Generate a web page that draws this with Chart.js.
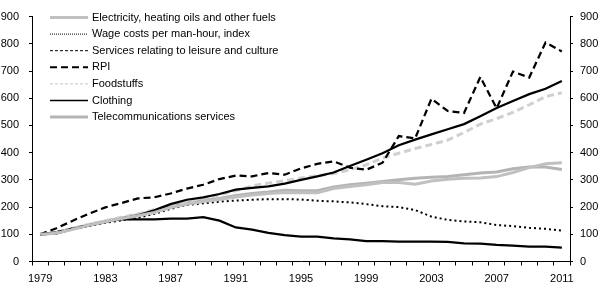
<!DOCTYPE html>
<html>
<head>
<meta charset="UTF-8">
<title>Price indices 1979-2011</title>
<style>
  html, body { margin: 0; padding: 0; background: #fff; }
  #wrap { width: 600px; height: 289px; }
</style>
</head>
<body>
<div id="wrap"><canvas id="myChart"></canvas></div>
<script src="https://cdn.jsdelivr.net/npm/chart.js@4.4.0/dist/chart.umd.min.js"></script>
<script>
var years = ["1979","1980","1981","1982","1983","1984","1985","1986","1987","1988","1989",
    "1990","1991","1992","1993","1994","1995","1996","1997","1998","1999","2000",
    "2001","2002","2003","2004","2005","2006","2007","2008","2009","2010","2011"];

var electricity = [100,104,118,133,146,158,168,180,198,210,220,228,237,244,250,254,
    253,253,268,276,282,290,290,284,296,302,306,307,312,327,345,359,363];
var wageCosts = [100,103,120,133,146,158,170,188,211,227,236,248,264,271,276,286,
    300,313,327,351,374,398,427,448,467,486,505,534,564,590,615,635,663];
var leisure = [100,103,118,130,142,151,161,175,193,208,214,220,224,227,229,229,
    228,223,221,217,211,203,200,189,165,153,147,144,134,130,124,120,114];
var rpi = [100,122,150,176,199,215,232,236,250,268,282,303,316,313,325,319,
    342,359,368,345,337,363,461,452,598,553,546,678,563,698,676,805,772];
var food = [100,106,122,137,150,163,175,190,205,220,232,245,260,278,288,297,
    307,315,323,337,355,380,398,415,430,446,474,505,525,548,576,606,620];
var clothing = [100,108,122,134,146,156,155,155,158,158,163,150,125,117,105,97,
    91,91,85,81,75,75,73,73,73,72,67,66,61,58,55,55,51];
var telecom = [100,105,120,135,148,160,172,185,204,215,225,232,243,250,255,262,
    260,260,274,282,288,294,300,306,310,312,319,325,329,341,347,347,338];

var yTicks = [0,100,200,300,400,500,600,700,800,900];

// line look in the legend differs a bit from the plotted lines
var legendLook = [
    { color: "#c0c0c0", width: 3, dash: [] },
    { color: "#000", width: 1, dash: [1, 1] },
    { color: "#000", width: 1, dash: [3, 2] },
    { color: "#000", width: 2, dash: [7, 4] },
    { color: "#c8c8c8", width: 1, dash: [3, 2] },
    { color: "#000", width: 1.5, dash: [] },
    { color: "#b4b4b4", width: 3, dash: [] }
];

function line(label, data, color, width, dash) {
    return {
        label: label,
        data: data,
        borderColor: color,
        backgroundColor: color,
        borderWidth: width,
        borderDash: dash,
        pointRadius: 0,
        tension: 0,
        fill: false
    };
}

Chart.defaults.font.family = "'Liberation Sans', Arial, sans-serif";
Chart.defaults.font.size = 11;
Chart.defaults.color = "#000";

var axisY = function (pos, pad, w) {
    return {
        position: pos,
        min: 0,
        max: 900,
        afterBuildTicks: function (s) {
            s.ticks = yTicks.map(function (v) { return { value: v }; });
        },
        afterFit: function (s) { s.width = w; },
        ticks: { padding: pad },
        grid: { drawOnChartArea: false, tickLength: 3, color: "#000" },
        border: { color: "#000" }
    };
};

// legend list sitting inside the plot, top left
var insideLegend = {
    id: "insideLegend",
    afterDraw: function (c) {
        var ctx = c.ctx;
        var x0 = c.chartArea.left + 18, x1 = x0 + 38;
        c.data.datasets.forEach(function (ds, i) {
            var y = 17.5 + i * 16.6;
            var look = legendLook[i];
            ctx.save();
            ctx.strokeStyle = look.color;
            ctx.lineWidth = look.width;
            ctx.setLineDash(look.dash);
            ctx.beginPath();
            ctx.moveTo(x0, y);
            ctx.lineTo(x1, y);
            ctx.stroke();
            ctx.setLineDash([]);
            ctx.fillStyle = "#000";
            ctx.font = "11px 'Liberation Sans', Arial, sans-serif";
            ctx.textBaseline = "middle";
            ctx.fillText(ds.label, x1 + 4, y);
            ctx.restore();
        });
    }
};

var ctx = document.getElementById("myChart");
var chart = new Chart(ctx, {
    type: "line",
    data: {
        labels: years,
        datasets: [
            line("Electricity, heating oils and other fuels", electricity, "#c0c0c0", 3, []),
            line("Wage costs per man-hour, index", wageCosts, "#000", 2.25, []),
            line("Services relating to leisure and culture", leisure, "#000", 2, [2, 3]),
            line("RPI", rpi, "#000", 2.25, [7, 4]),
            line("Foodstuffs", food, "#d0d0d0", 3, [7, 4]),
            line("Clothing", clothing, "#000", 2.25, []),
            line("Telecommunications services", telecom, "#b4b4b4", 3, [])
        ]
    },
    options: {
        responsive: true,
        maintainAspectRatio: false,
        animation: false,
        layout: { padding: { left: 0, right: 0, top: 7.3, bottom: 0 } },
        scales: {
            x: {
                type: "category",
                offset: true,
                afterFit: function (s) { s.height = 27.5; },
                grid: { offset: true, drawOnChartArea: false, tickLength: 4, color: "#000" },
                border: { color: "#000" },
                ticks: {
                    autoSkip: false,
                    maxRotation: 0,
                    padding: 7,
                    callback: function (v, i) { return i % 4 === 0 ? years[i] : ""; }
                }
            },
            y: axisY("left", 10, 32),
            y2: axisY("right", 7, 30)
        },
        plugins: {
            tooltip: { enabled: false },
            legend: { display: false }
        }
    },
    plugins: [insideLegend]
});
</script>
</body>
</html>
